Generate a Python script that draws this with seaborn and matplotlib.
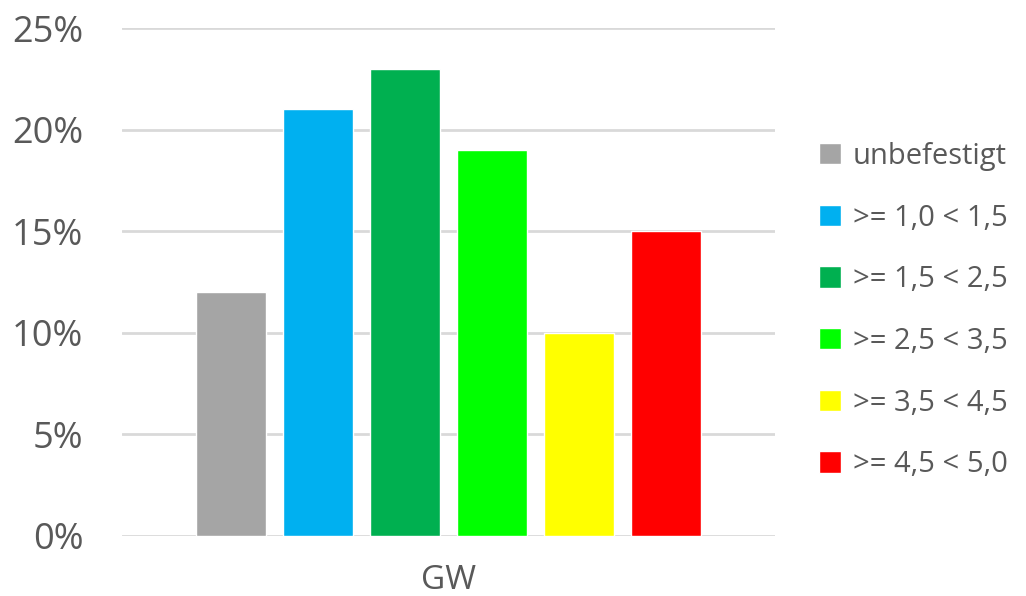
import pandas as pd
import seaborn as sns
import matplotlib.pyplot as plt
from matplotlib.ticker import PercentFormatter

# Data
categories = ['unbefestigt', '>= 1,0 < 1,5', '>= 1,5 < 2,5', '>= 2,5 < 3,5', '>= 3,5 < 4,5', '>= 4,5 < 5,0']
values = [0.12, 0.21, 0.23, 0.19, 0.10, 0.15]
group = ['GW'] * len(categories)
colors = ['#a5a5a5', '#00b0f0', '#00b050', '#00ff00', '#ffff00', '#ff0000']

df = pd.DataFrame({'group': group, 'category': categories, 'value': values})

sns.set_theme(style='white')
plt.rcParams['font.family'] = ['Open Sans', 'DejaVu Sans']
text_color = '#595959'

fig = plt.figure(figsize=(10.26, 5.96), dpi=100)
ax = fig.add_axes([0.119, 0.1007, 0.636, 0.8523])

sns.barplot(data=df, x='group', y='value', hue='category', hue_order=categories,
            palette=colors, width=0.8, gap=0.2, saturation=1, ax=ax)

ax.set_ylim(0, 0.25)
ax.set_yticks([0, 0.05, 0.10, 0.15, 0.20, 0.25])
ax.yaxis.set_major_formatter(PercentFormatter(1.0, decimals=0))
ax.yaxis.grid(True, color='#d9d9d9', linewidth=2)
ax.set_axisbelow(True)
for s in ax.spines.values():
    s.set_visible(False)
ax.tick_params(axis='y', length=0, pad=28, labelsize=26, labelcolor=text_color)
ax.tick_params(axis='x', length=0, pad=20, labelsize=24, labelcolor=text_color)
ax.set_xlabel('')
ax.set_ylabel('')

handles, labels = ax.get_legend_handles_labels()
ax.legend_.remove()
fig.legend(handles, labels, loc='center left', bbox_to_anchor=(0.773, 0.479),
           frameon=False, fontsize=21, labelcolor=text_color,
           handlelength=0.75, handleheight=0.75, handletextpad=0.4, labelspacing=1.12)

fig.savefig('out.png', dpi=100)
